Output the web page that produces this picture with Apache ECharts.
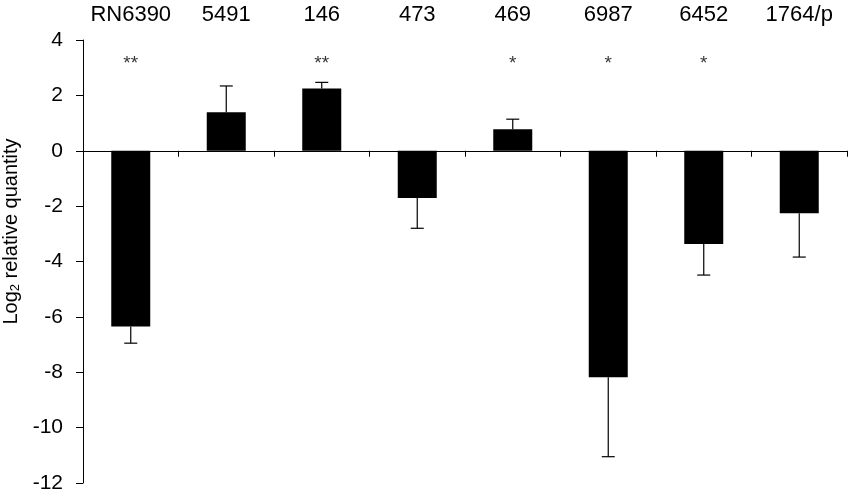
<!DOCTYPE html>
<html>
<head>
<meta charset="utf-8">
<script src="https://cdn.jsdelivr.net/npm/echarts@6/dist/echarts.min.js"></script>
<style>
  html, body { margin: 0; padding: 0; background: #fff; }
  #main { width: 851px; height: 493px; }
</style>
</head>
<body>
<div id="main"></div>
<script>
// data
var strains = ['RN6390', '5491', '146', '473', '469', '6987', '6452', '1764/p'];
var log2Values = [-6.35, 1.39, 2.25, -1.71, 0.78, -8.18, -3.37, -2.26];
var errors = [0.6, 0.95, 0.22, 1.09, 0.36, 2.87, 1.12, 1.58];
var stars = ['**', '', '**', '', '*', '*', '*', ''];
var starLevel = 3.15;
var yTicks = [-12, -10, -8, -6, -4, -2, 0, 2, 4];

var font = '"Liberation Sans", Arial, sans-serif';
var chart = echarts.init(document.getElementById('main'));

var option = {
    backgroundColor: '#fff',
    animation: false,
    grid: { left: 83, right: 4, top: 40, bottom: 10, containLabel: false, outerBoundsMode: 'none' },
    xAxis: [
        {
            type: 'category',
            data: strains,
            axisLine: { onZero: true, lineStyle: { color: '#000', width: 1 } },
            axisTick: { show: true, length: 6, lineStyle: { color: '#000' } },
            axisLabel: { show: false }
        },
        {
            type: 'category',
            data: strains,
            position: 'top',
            axisLine: { show: false },
            axisTick: { show: false },
            axisLabel: { interval: 0, color: '#000', fontSize: 22, fontFamily: font, margin: 14 }
        }
    ],
    yAxis: {
        type: 'value',
        min: yTicks[0],
        max: yTicks[yTicks.length - 1],
        interval: 2,
        splitLine: { show: false },
        axisLine: { show: true, lineStyle: { color: '#000', width: 1 } },
        axisTick: { show: true, length: 7, lineStyle: { color: '#000' } },
        axisLabel: { color: '#000', fontSize: 21, fontFamily: font, margin: 20 },
        name: '{a|Log}{s|2}{a| relative quantity}',
        nameLocation: 'middle',
        nameGap: 61,
        nameTextStyle: {
            padding: [0, 0, 0, 60],
            rich: {
                a: { fontSize: 20, fontFamily: font, color: '#000' },
                s: { fontSize: 13, fontFamily: font, color: '#000', padding: [8, 0, 0, 0] }
            }
        }
    },
    series: [
        {
            type: 'bar',
            data: log2Values,
            barWidth: 39,
            itemStyle: { color: '#000' },
            z: 2
        },
        {
            type: 'custom',
            data: log2Values.map(function (v, i) { return [i, v, errors[i]]; }),
            z: 3,
            renderItem: function (params, api) {
                var v = api.value(1);
                var e = api.value(2);
                var end = v >= 0 ? v + e : v - e;
                var p0 = api.coord([api.value(0), v]);
                var p1 = api.coord([api.value(0), end]);
                var half = 6.5;
                var style = { stroke: '#000', lineWidth: 1.2 };
                return {
                    type: 'group',
                    children: [
                        { type: 'line', shape: { x1: p0[0], y1: p0[1], x2: p1[0], y2: p1[1] }, style: style },
                        { type: 'line', shape: { x1: p1[0] - half, y1: p1[1], x2: p1[0] + half, y2: p1[1] }, style: style }
                    ]
                };
            }
        },
        {
            type: 'scatter',
            data: stars.map(function (s, i) { return [i, starLevel]; }),
            symbolSize: 0,
            label: {
                show: true,
                position: 'inside',
                color: '#000',
                fontSize: 19,
                fontFamily: font,
                formatter: function (p) { return stars[p.dataIndex]; }
            }
        }
    ]
};

chart.setOption(option);
</script>
</body>
</html>
